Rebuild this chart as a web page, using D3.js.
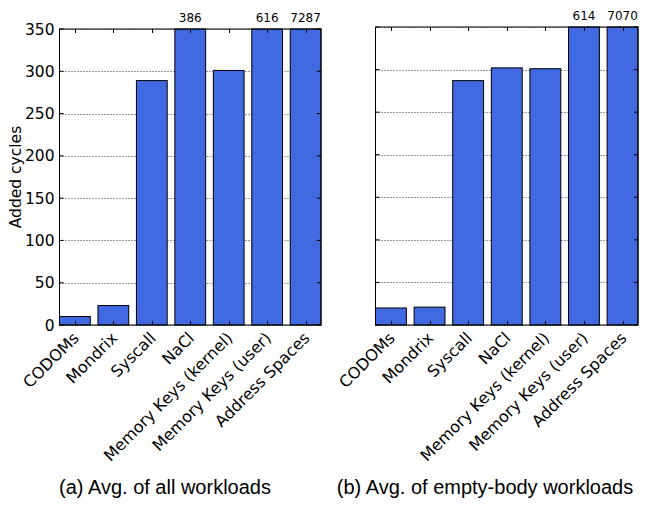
<!DOCTYPE html>
<html><head><meta charset="utf-8">
<script src="https://cdn.jsdelivr.net/npm/d3@7"></script>
<style>body{margin:0;background:#fff}svg{display:block}</style>
</head><body>
<script>
const categories = ["CODOMs","Mondrix","Syscall","NaCl","Memory Keys (kernel)","Memory Keys (user)","Address Spaces"];
const valuesAll = [10, 23, 289, 386, 301, 616, 7287];
const valuesEmpty = [20, 21, 287, 302, 301, 614, 7070];
const yTicks = [0,50,100,150,200,250,300,350];
const captions = ["(a) Avg. of all workloads", "(b) Avg. of empty-body workloads"];
const yMax = 350;

const W = 653, H = 508;
const svg = d3.select("body").append("svg").attr("width", W).attr("height", H);

const panels = [
  {x0: 59.5, x1: 321, y0: 29, y1: 325, values: valuesAll, labels: true, cap: captions[0], capX: 165},
  {x0: 375.5, x1: 638, y0: 27, y1: 325, values: valuesEmpty, labels: false, cap: captions[1], capX: 485}
];

const FS = 15.5;
const FX = 16;

panels.forEach(p => {
  const g = svg.append("g");
  // matplotlib-like band layout: bars width 0.8 of step, xlim [0, 6.8]
  const x = d3.scaleBand().domain(categories)
    .range([p.x0, p.x1])
    .paddingInner(0.2).paddingOuter(0);
  const xc = d => x(d) + x.bandwidth() / 2;
  const bw = x.bandwidth();
  const y = d3.scaleLinear().domain([0, yMax]).range([p.y1, p.y0]);

  // grid
  g.selectAll("line.grid").data(yTicks).enter().append("line")
    .attr("x1", p.x0).attr("x2", p.x1)
    .attr("y1", d => Math.round(y(d)) + 0.5).attr("y2", d => Math.round(y(d)) + 0.5)
    .attr("stroke", "#000").attr("stroke-width", 0.8).attr("stroke-dasharray", "1,2");

  // bars
  g.selectAll("rect.bar").data(categories).enter().append("rect")
    .attr("x", d => x(d))
    .attr("width", bw)
    .attr("y", (d, i) => y(Math.min(p.values[i], yMax)))
    .attr("height", (d, i) => y(0) - y(Math.min(p.values[i], yMax)))
    .attr("fill", "#4169E1").attr("stroke", "#000").attr("stroke-width", 1);

  // overflow labels
  g.selectAll("text.over").data(categories.filter((d, i) => p.values[i] > yMax)).enter().append("text")
    .attr("x", d => xc(d)).attr("y", p.y0 - 7)
    .attr("text-anchor", "middle").attr("font-family", "DejaVu Sans").attr("font-size", 12)
    .attr("fill", "#000")
    .text(d => p.values[categories.indexOf(d)]);

  // axes frame
  g.append("rect").attr("x", p.x0).attr("y", p.y0).attr("width", p.x1 - p.x0).attr("height", p.y1 - p.y0)
    .attr("fill", "none").attr("stroke", "#000").attr("stroke-width", 1);

  // y ticks inside (left & right)
  const tl = 4;
  yTicks.forEach(t => {
    const yy = y(t);
    g.append("line").attr("x1", p.x0).attr("x2", p.x0 + tl).attr("y1", yy).attr("y2", yy).attr("stroke", "#000");
    g.append("line").attr("x1", p.x1).attr("x2", p.x1 - tl).attr("y1", yy).attr("y2", yy).attr("stroke", "#000");
  });
  // x ticks inside (bottom & top)
  categories.forEach(c => {
    const xx = Math.round(xc(c)) + 0.5;
    g.append("line").attr("x1", xx).attr("x2", xx).attr("y1", p.y1).attr("y2", p.y1 - tl).attr("stroke", "#000");
    g.append("line").attr("x1", xx).attr("x2", xx).attr("y1", p.y0).attr("y2", p.y0 + tl).attr("stroke", "#000");
  });

  // y tick labels
  if (p.labels) {
    g.selectAll("text.yt").data(yTicks).enter().append("text")
      .attr("x", p.x0 - 5).attr("y", d => y(d)).attr("dy", "0.36em")
      .attr("text-anchor", "end").attr("font-family", "DejaVu Sans").attr("font-size", FS)
      .attr("fill", "#000").text(d => d);
    g.append("text")
      .attr("transform", `translate(21,${(p.y0 + p.y1) / 2}) rotate(-90)`)
      .attr("text-anchor", "middle").attr("font-family", "DejaVu Sans").attr("font-size", FS)
      .attr("fill", "#000").text("Added cycles");
  }

  // x tick labels rotated
  g.selectAll("text.xt").data(categories).enter().append("text")
    .attr("transform", d => `translate(${xc(d) + 5},${p.y1 + 14}) rotate(-45)`)
    .attr("text-anchor", "end")
    .attr("font-family", "DejaVu Sans").attr("font-size", FX).attr("fill", "#000")
    .text(d => d);

  // caption
  g.append("text").attr("x", p.capX).attr("y", 494)
    .attr("text-anchor", "middle").attr("font-family", "Liberation Sans").attr("font-size", 20)
    .attr("fill", "#000").text(p.cap);
});
</script>
</body></html>
